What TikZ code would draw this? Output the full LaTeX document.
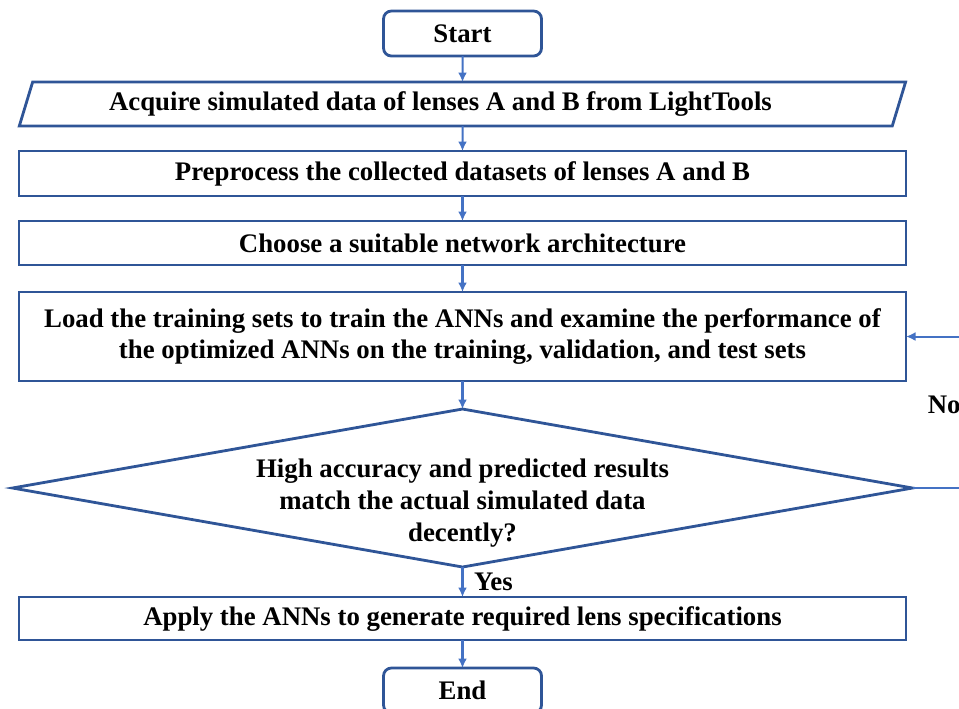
\documentclass[tikz,border=0pt]{standalone}
\usepackage{fontspec}
\setmainfont{Liberation Serif}
\usetikzlibrary{shapes.geometric, positioning, arrows.meta}
\definecolor{boxblue}{HTML}{2F5597}
\definecolor{arrowblue}{HTML}{4472C4}

\begin{document}
\begin{tikzpicture}[font=\fontsize{15.25}{18.2}\selectfont\bfseries]
\tikzstyle{term}=[rectangle, rounded corners=4.5pt, draw=boxblue, line width=1.6pt, minimum width=3.16cm, minimum height=0.9cm, outer sep=0pt]
\tikzstyle{proc}=[rectangle, draw=boxblue, line width=1.6pt, minimum width=17.74cm, minimum height=0.88cm, outer sep=0pt, align=center]
\tikzstyle{io}=[trapezium, trapezium left angle=75, trapezium right angle=105, trapezium stretches=true, draw=boxblue, line width=1.6pt, minimum width=17.74cm, minimum height=0.88cm, outer sep=0pt]
\tikzstyle{decision}=[diamond, draw=boxblue, line width=1.6pt, minimum width=18cm, minimum height=3.16cm, outer sep=0pt, inner sep=0pt]
\tikzstyle{connect}=[-{Latex[length=1.9mm, width=1.8mm]}, draw=arrowblue, line width=1.15pt]
    \useasboundingbox (0,0) rectangle (19.18,-14.16);
    \node[term] (start) at (9.25,-0.67) {Start};
    \node[io] (acquire) [below=0.52cm of start] {\hspace*{-0.88cm}Acquire simulated data of lenses A and B from LightTools};
    \node[proc, minimum height=0.9cm] (preprocess) [below=0.5cm of acquire] {Preprocess the collected datasets of lenses A and B};
    \node[proc] (choose) [below=0.5cm of preprocess] {Choose a suitable network architecture};
    \node[proc, minimum height=1.78cm] (train) [below=0.54cm of choose] {Load the training sets to train the ANNs and examine the performance of\\the optimized ANNs on the training, validation, and test sets};
    \node[decision] (check) [below=0.56cm of train, label={[align=center, yshift=-0.3cm]center:{High accuracy and predicted results\\match the actual simulated data\\decently?}}] { };
    \node[proc, minimum height=0.86cm] (apply) [below=0.6cm of check] {Apply the ANNs to generate required lens specifications};
    \node[term] (end) [below=0.56cm of apply] {End};
    \path (start) edge [connect] (acquire)
          (acquire) edge [connect] (preprocess)
          (preprocess) edge [connect] (choose)
          (choose) edge [connect] (train)
          (train) edge [connect] (check)
          (check) edge [connect] node[right, text=black, inner sep=6pt] {Yes} (apply)
          (apply) edge [connect] (end);
    \draw[connect] (check.east) -- ++(1.2,0) |- node[pos=0.276, anchor=east, text=black, inner sep=0pt, xshift=-0.22cm] {No} (train.east);
\end{tikzpicture}
\end{document}
